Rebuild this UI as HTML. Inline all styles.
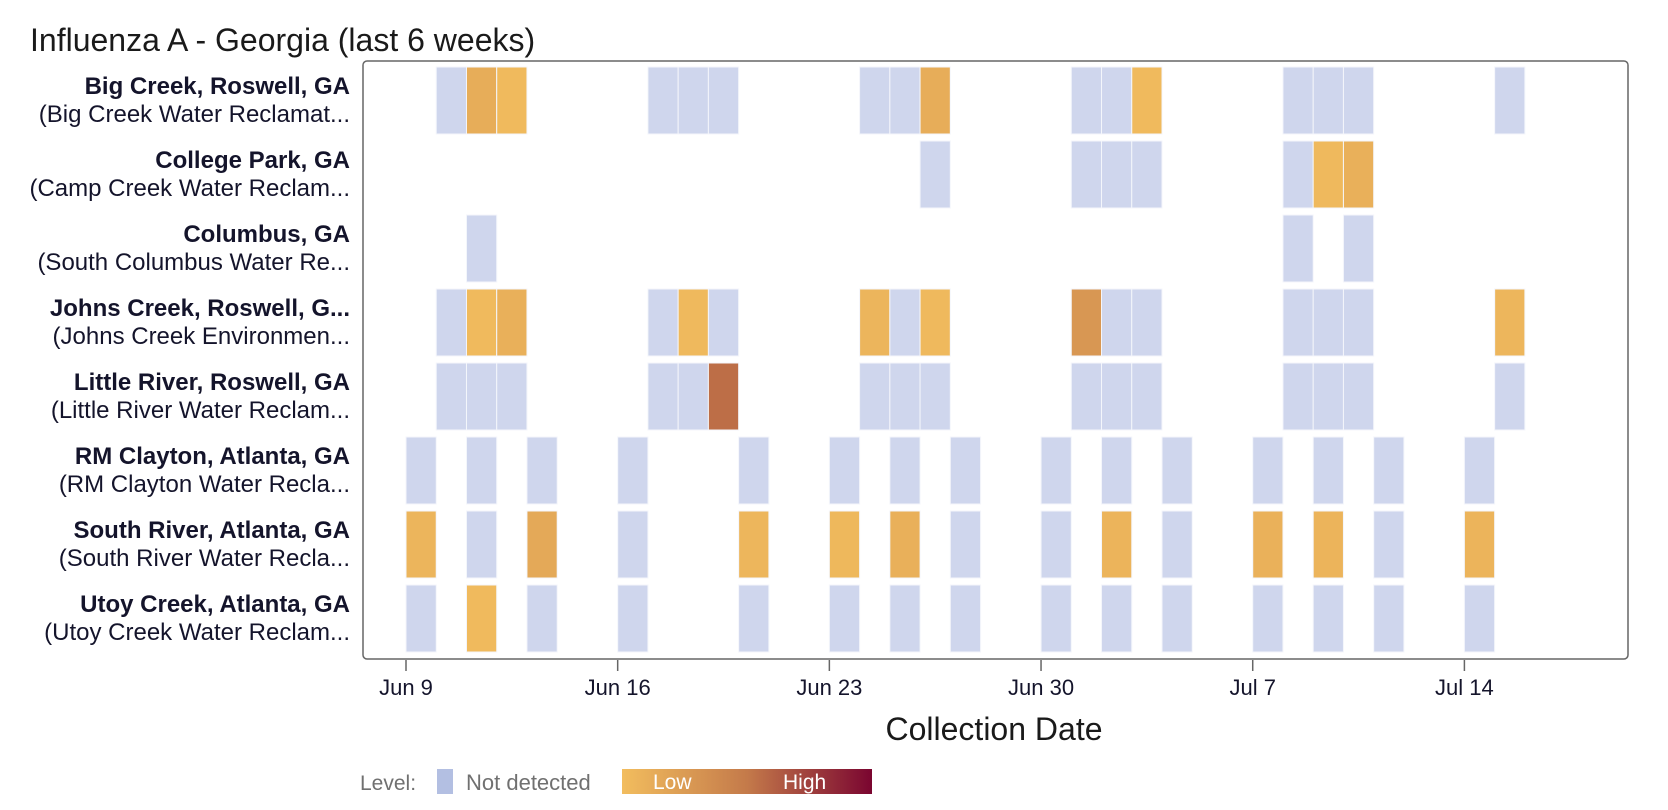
<!DOCTYPE html>
<html><head><meta charset="utf-8"><style>
html,body{margin:0;padding:0;background:#fff}
svg{display:block;font-family:"Liberation Sans",Arial,sans-serif}
</style></head><body>
<svg id="chart" width="1668" height="810" viewBox="0 0 1668 810">
<defs><linearGradient id="lg" x1="0" x2="1" y1="0" y2="0"><stop offset="0" stop-color="#f2bd5e"/><stop offset="0.5" stop-color="#c47a4a"/><stop offset="1" stop-color="#7a0530"/></linearGradient></defs>
<text x="30" y="51" font-size="32" fill="#1a1a1a">Influenza A - Georgia (last 6 weeks)</text>
<rect x="363" y="61" width="1265" height="598" rx="4" fill="none" stroke="#666" stroke-width="1.5"/>
<g id="tiles"></g><g id="labels"></g><g id="xaxis"></g>
<text x="994" y="740" font-size="32" text-anchor="middle" fill="#1a1a1a">Collection Date</text>
<g>
<text x="360" y="790" font-size="21" fill="#707070">Level:</text>
<rect x="437" y="769" width="16" height="25" fill="#b3bfe2"/>
<text x="466" y="790" font-size="22" fill="#707070">Not detected</text>
<rect x="622" y="769" width="250" height="25" fill="url(#lg)"/>
<text x="653" y="789" font-size="21" fill="#fff">Low</text>
<text x="783" y="789" font-size="21" fill="#fff">High</text>
</g>
</svg>
<script>
const siteNames = ["Big Creek, Roswell, GA","College Park, GA","Columbus, GA","Johns Creek, Roswell, G...","Little River, Roswell, GA","RM Clayton, Atlanta, GA","South River, Atlanta, GA","Utoy Creek, Atlanta, GA"];
const plantNames = ["(Big Creek Water Reclamat...","(Camp Creek Water Reclam...","(South Columbus Water Re...","(Johns Creek Environmen...","(Little River Water Reclam...","(RM Clayton Water Recla...","(South River Water Recla...","(Utoy Creek Water Reclam..."];
// day offsets from Jun 9, and level values (0 = not detected, else 0..1 intensity)
const sampleDays = [
 [1,2,3,8,9,10,15,16,17,22,23,24,29,30,31,36],
 [17,22,23,24,29,30,31],
 [2,29,31],
 [1,2,3,8,9,10,15,16,17,22,23,24,29,30,31,36],
 [1,2,3,8,9,10,15,16,17,22,23,24,29,30,31,36],
 [0,2,4,7,11,14,16,18,21,23,25,28,30,32,35],
 [0,2,4,7,11,14,16,18,21,23,25,28,30,32,35],
 [0,2,4,7,11,14,16,18,21,23,25,28,30,32,35]
];
const sampleLevels = [
 [0,0.12,0.02,0,0,0,0,0,0.12,0,0,0.02,0,0,0,0],
 [0,0,0,0,0,0.03,0.1],
 [0,0,0],
 [0,0.02,0.1,0,0.03,0,0.06,0,0.03,0.28,0,0,0,0,0,0.05],
 [0,0,0,0,0,0.55,0,0,0,0,0,0,0,0,0,0],
 [0,0,0,0,0,0,0,0,0,0,0,0,0,0,0],
 [0.06,0,0.15,0,0.05,0.04,0.1,0,0,0.07,0,0.09,0.07,0,0.07],
 [0,0.02,0,0,0,0,0,0,0,0,0,0,0,0,0]
];
const tickDays = [0,7,14,21,28,35];
const tickLabels = ["Jun 9","Jun 16","Jun 23","Jun 30","Jul 7","Jul 14"];
</script>
<script>
const NS="http://www.w3.org/2000/svg";
const x0=406, dayW=30.24, rowTop=67, rowPitch=74, tileH=67;
const xScale=d=>x0+d*dayW;
const yScale=i=>rowTop+i*rowPitch;
function lerp(a,b,t){return a+(b-a)*t;}
function hex(c){return [parseInt(c.slice(1,3),16),parseInt(c.slice(3,5),16),parseInt(c.slice(5,7),16)];}
const stops=[[0,hex("#f2bd5e")],[0.5,hex("#c47a4a")],[1,hex("#7a0530")]];
function color(v){
 if(!(v>0)) return "#cfd6ed";
 for(let i=0;i<stops.length-1;i++){const [a,ca]=stops[i],[b,cb]=stops[i+1];
  if(v<=b){const t=(v-a)/(b-a);return "rgb("+ca.map((c,k)=>Math.round(lerp(c,cb[k],t))).join(",")+")";}}
 return "#7a0530";
}
const tiles=document.getElementById("tiles");
sampleDays.forEach((days,i)=>{
 days.forEach((d,j)=>{
  const r=document.createElementNS(NS,"rect");
  r.setAttribute("x",xScale(d));r.setAttribute("y",yScale(i));
  r.setAttribute("width",dayW);r.setAttribute("height",tileH);
  r.setAttribute("fill",color(sampleLevels[i][j]));
  r.setAttribute("stroke","#f4f6fb");r.setAttribute("stroke-width","1");
  
  
  tiles.appendChild(r);
 });
});
const labels=document.getElementById("labels");
siteNames.forEach((n,i)=>{
 const t=document.createElementNS(NS,"text");
 t.setAttribute("x",350);t.setAttribute("y",yScale(i)+27);
 t.setAttribute("text-anchor","end");t.setAttribute("font-size","24");t.setAttribute("font-weight","bold");t.setAttribute("fill","#14142b");
 t.textContent=n;
 
 
 labels.appendChild(t);
 const s=document.createElementNS(NS,"text");
 s.setAttribute("x",350);s.setAttribute("y",yScale(i)+55);
 s.setAttribute("text-anchor","end");s.setAttribute("font-size","24");s.setAttribute("fill","#14142b");
 s.textContent=plantNames[i];
 
 
 labels.appendChild(s);
});
const xa=document.getElementById("xaxis");
tickDays.forEach((d,i)=>{
 const l=document.createElementNS(NS,"line");
 l.setAttribute("x1",xScale(d));l.setAttribute("x2",xScale(d));l.setAttribute("y1",660);l.setAttribute("y2",671);
 l.setAttribute("stroke","#666");l.setAttribute("stroke-width","1.5");
 
 
 xa.appendChild(l);
 const t=document.createElementNS(NS,"text");
 t.setAttribute("x",xScale(d));t.setAttribute("y",695);t.setAttribute("text-anchor","middle");
 t.setAttribute("font-size","22");t.setAttribute("fill","#14142b");t.textContent=tickLabels[i];
 
 
 xa.appendChild(t);
});
</script>
</body></html>
